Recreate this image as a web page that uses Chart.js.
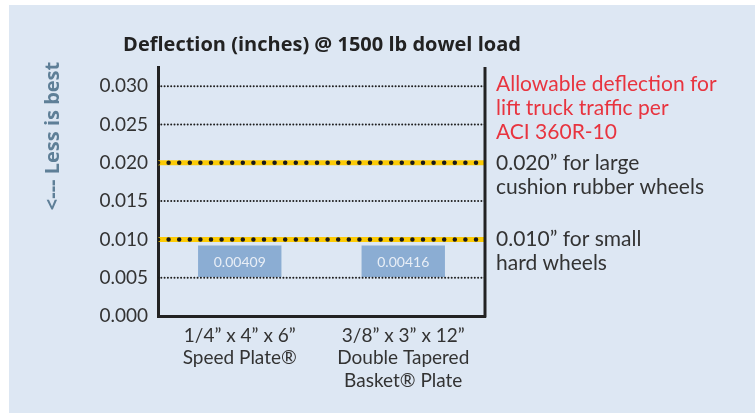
<!DOCTYPE html>
<html>
<head>
<meta charset="utf-8">
<script src="https://cdn.jsdelivr.net/npm/chart.js@4"></script>
<style>
  html, body { margin: 0; padding: 0; background: #fff; }
  #wrap { position: absolute; left: 9px; top: 5px; width: 746px; height: 408px; background: #dde7f3; }
</style>
</head>
<body>
<div id="wrap"><canvas id="deflectionChart" width="746" height="408"></canvas></div>
<script>
// values
const categories = [
    ["1/4\u201d x 4\u201d x 6\u201d", "Speed Plate\u00ae"],
    ["3/8\u201d x 3\u201d x 12\u201d", "Double Tapered", "Basket\u00ae Plate"],
];
const deflection = [0.00409, 0.00416];
// the value boxes float between these levels in the picture
const boxLow = [0.0051, 0.0051];
const boxHigh = [0.0092, 0.0092];
const allowable = [0.010, 0.020];
const plainGrid = [0.005, 0.015, 0.025, 0.030];
const yTicks = [0, 0.005, 0.010, 0.015, 0.020, 0.025, 0.030];
const yMax = 0.0325;

const titleText = "Deflection (inches) @ 1500 lb dowel load";
const sideText = "<--- Less is best";
const redNote = ["Allowable deflection for", "lift truck traffic per", "ACI 360R-10"];
const notes = {
    0.020: ["0.020\u201d for large", "cushion rubber wheels"],
    0.010: ["0.010\u201d for small", "hard wheels"],
};

const FONT = "Lato, 'Open Sans', sans-serif";
const BOLD_FONT = "'Open Sans', sans-serif";

function flatLine(v) {
    return [{ x: 0, y: v }, { x: 1, y: v }];
}

const datasets = [
    {
        type: "bar",
        label: "Deflection",
        data: boxLow.map((lo, i) => [lo, boxHigh[i]]),
        backgroundColor: "#8badd3",
        borderWidth: 0,
        grouped: false,
        barPercentage: 1,
        categoryPercentage: 0.51,
        order: 5,
    },
];

plainGrid.forEach((v) => {
    datasets.push({
        type: "line",
        xAxisID: "x2",
        data: flatLine(v),
        borderColor: "#1e1e1e",
        borderWidth: 2,
        borderDash: [0, 3.3],
        borderCapStyle: "round",
        pointRadius: 0,
        order: 2,
    });
});

allowable.forEach((v) => {
    datasets.push({
        type: "line",
        xAxisID: "x2",
        data: flatLine(v),
        borderColor: "#fccb05",
        borderWidth: 5,
        pointRadius: 0,
        order: 1,
    });
    datasets.push({
        type: "line",
        xAxisID: "x2",
        data: flatLine(v),
        borderColor: "#1a1a1a",
        borderWidth: 4.5,
        borderDash: [0, 10.6],
        borderCapStyle: "round",
        pointRadius: 0,
        order: 0,
    });
});

const textPlugin = {
    id: "texts",
    afterDraw(chart) {
        const ctx = chart.ctx;
        const area = chart.chartArea;
        const y = chart.scales.y;
        ctx.save();

        // frame on the right side
        ctx.strokeStyle = "#222";
        ctx.lineWidth = 3;
        ctx.beginPath();
        ctx.moveTo(area.right, area.top);
        ctx.lineTo(area.right, area.bottom + 1.5);
        ctx.stroke();

        // value text inside each box
        const meta = chart.getDatasetMeta(0);
        ctx.font = "14px " + FONT;
        ctx.fillStyle = "#e8eef6";
        ctx.textAlign = "center";
        ctx.textBaseline = "middle";
        meta.data.forEach((bar, i) => {
            const mid = (bar.y + bar.base) / 2;
            ctx.fillText(deflection[i].toFixed(5), bar.x, mid + 1);
        });

        // title
        ctx.textBaseline = "alphabetic";
        ctx.font = "bold 20px " + BOLD_FONT;
        ctx.fillStyle = "#222";
        ctx.fillText(titleText, 313, 46);

        // side label
        ctx.save();
        ctx.translate(44, 131);
        ctx.rotate(-Math.PI / 2);
        ctx.font = "bold 20px " + BOLD_FONT;
        ctx.fillStyle = "#5e7f97";
        ctx.textBaseline = "middle";
        ctx.fillText(sideText, 0, 0);
        ctx.restore();

        // notes on the right
        ctx.textAlign = "left";
        ctx.font = "21px " + FONT;
        ctx.fillStyle = "#e8343f";
        redNote.forEach((t, i) => {
            ctx.fillText(t, area.right + 11, area.top + 24 + i * 23.8);
        });
        ctx.fillStyle = "#333";
        Object.keys(notes).forEach((k) => {
            const base = y.getPixelForValue(Number(k)) + 7;
            notes[k].forEach((t, i) => {
                ctx.fillText(t, area.right + 11, base + i * 24);
            });
        });
        ctx.restore();
    },
};

new Chart(document.getElementById("deflectionChart"), {
    type: "bar",
    data: {
        labels: categories,
        datasets: datasets,
    },
    options: {
        responsive: false,
        animation: false,
        layout: {
            padding: { left: 59, right: 270, top: 62, bottom: 0 },
        },
        scales: {
            x: {
                grid: { display: false, drawTicks: false },
                border: { display: true, color: "#222", width: 3 },
                ticks: {
                    color: "#333",
                    font: { family: FONT, size: 19 },
                    padding: 8,
                    maxRotation: 0,
                },
                afterFit(scale) {
                    scale.height = 97;
                },
            },
            x2: {
                type: "linear",
                display: false,
                offset: false,
                min: 0,
                max: 1,
            },
            y: {
                min: 0,
                max: yMax,
                grid: { display: false, drawTicks: false },
                border: { display: true, color: "#222", width: 3 },
                afterBuildTicks(scale) {
                    scale.ticks = yTicks.map((v) => ({ value: v }));
                },
                ticks: {
                    color: "#333",
                    font: { family: FONT, size: 19 },
                    padding: 10,
                    callback: (v) => v.toFixed(3),
                },
                afterFit(scale) {
                    scale.width = 90;
                },
            },
        },
        plugins: {
            legend: { display: false },
            tooltip: { enabled: false },
        },
    },
    plugins: [textPlugin],
});
</script>
</body>
</html>
